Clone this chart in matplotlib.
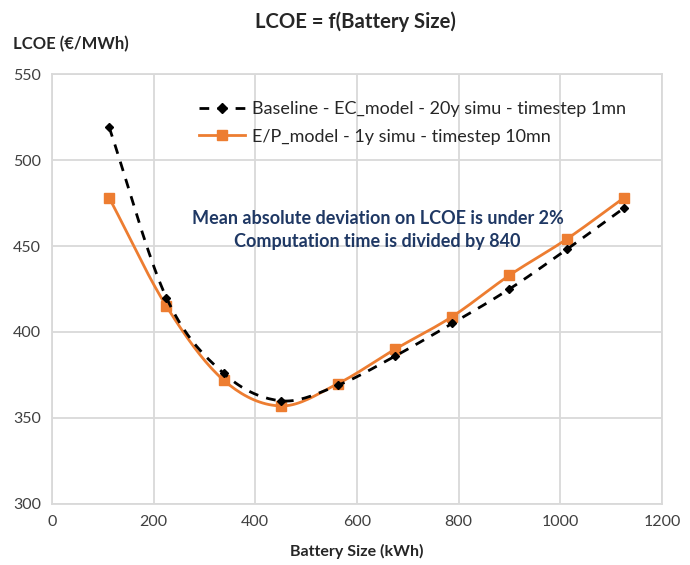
import numpy as np
import matplotlib.pyplot as plt

plt.rcParams['font.family'] = ['Lato', 'DejaVu Sans']

# battery sizes (kWh)
battery_size = [112.5, 225, 337.5, 450, 562.5, 675, 787.5, 900, 1012.5, 1125]
# LCOE values (EUR/MWh)
lcoe_baseline = [519, 420, 376, 360, 369, 386, 405, 425, 448, 472]
lcoe_ep = [478, 415, 372, 357, 370, 390, 409, 433, 454, 478]

baseline_label = "Baseline - EC_model - 20y simu - timestep 1mn"
ep_label = "E/P_model - 1y simu - timestep 10mn"


def smooth(x, y, n=20):
    # Catmull-Rom curve through the points, like Excel's smoothed lines
    x = np.asarray(x, float)
    y = np.asarray(y, float)
    px = np.concatenate([[2 * x[0] - x[1]], x, [2 * x[-1] - x[-2]]])
    py = np.concatenate([[2 * y[0] - y[1]], y, [2 * y[-1] - y[-2]]])
    t = np.linspace(0, 1, n)[:, None]
    xs, ys = [], []
    for i in range(1, len(px) - 2):
        for arr, out in ((px, xs), (py, ys)):
            p0, p1, p2, p3 = arr[i - 1], arr[i], arr[i + 1], arr[i + 2]
            seg = 0.5 * ((2 * p1) + (-p0 + p2) * t + (2 * p0 - 5 * p1 + 4 * p2 - p3) * t ** 2
                         + (-p0 + 3 * p1 - 3 * p2 + p3) * t ** 3)
            out.append(seg.ravel())
    return np.concatenate(xs), np.concatenate(ys)


fig = plt.figure(figsize=(6.9, 5.65), dpi=100)
ax = fig.add_axes([0.0754, 0.108, 0.884, 0.761])

orange = '#ED7D31'
bx, by = smooth(battery_size, lcoe_baseline)
ox, oy = smooth(battery_size, lcoe_ep)

ax.plot(ox, oy, color=orange, lw=2, zorder=3)
ax.plot(battery_size, lcoe_ep, 's', color=orange, ms=7, zorder=4)
ax.plot(bx, by, color='black', lw=2, ls=(0, (3.5, 3)), zorder=5)
ax.plot(battery_size, lcoe_baseline, 'D', color='black', ms=4.5, zorder=6)

# legend handles
h1, = ax.plot([], [], color='black', lw=2, ls=(0, (3.5, 3)), marker='D', ms=5)
h2, = ax.plot([], [], color=orange, lw=2, marker='s', ms=7)
ax.legend([h1, h2], [baseline_label, ep_label], loc='upper left',
          bbox_to_anchor=(0.215, 0.975), frameon=False, fontsize=13,
          handlelength=2.5, handletextpad=0.4, labelspacing=0.65,
          labelcolor='#262626')

ax.text(0.534, 0.637, "Mean absolute deviation on LCOE is under 2%\nComputation time is divided by 840",
        transform=ax.transAxes, ha='center', va='center', fontsize=13,
        fontweight='bold', color='#1F3864', linespacing=1.4)

ax.set_xlim(0, 1200)
ax.set_ylim(300, 550)
ax.set_xticks(range(0, 1201, 200))
ax.set_yticks(range(300, 551, 50))
ax.grid(True, color='#D9D9D9', lw=1.3)
ax.set_axisbelow(True)
for s in ax.spines.values():
    s.set_color('#D9D9D9')
    s.set_linewidth(1.3)
ax.tick_params(length=0, labelsize=11.5, labelcolor='#404040', pad=8)

fig.text(0.515, 0.962, "LCOE = f(Battery Size)", ha='center', va='center',
         fontsize=14.6, fontweight='bold', color='#262626')
fig.text(0.019, 0.922, "LCOE (€/MWh)", ha='left', va='center',
         fontsize=12, fontweight='bold', color='#262626')
fig.text(0.517, 0.024, "Battery Size (kWh)", ha='center', va='center',
         fontsize=11.5, fontweight='bold', color='#262626')

fig.savefig('out.png', dpi=100)
